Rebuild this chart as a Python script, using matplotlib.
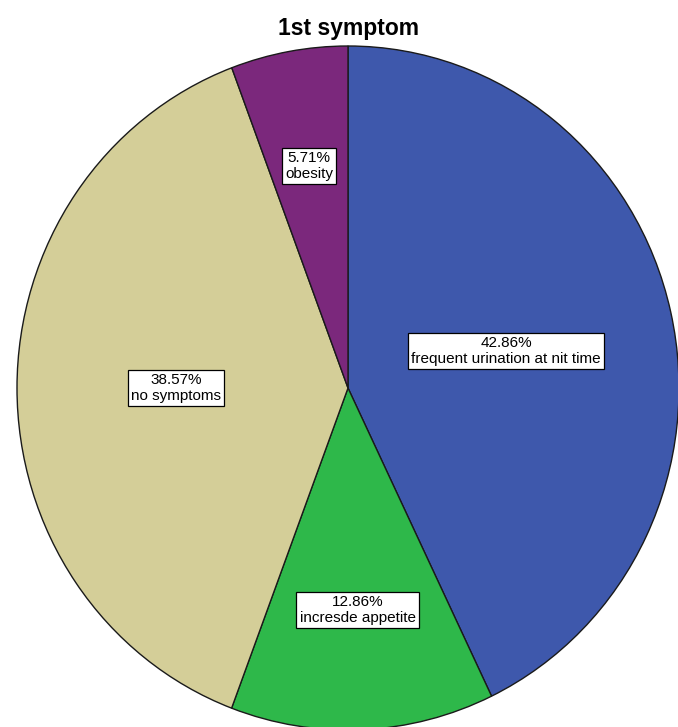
import numpy as np
import matplotlib.pyplot as plt

plt.rcParams['font.family'] = ['Liberation Sans', 'DejaVu Sans']

labels = ['frequent urination at nit time', 'incresde appetite', 'no symptoms', 'obesity']
pcts = [42.86, 12.86, 38.57, 5.71]
colors = ['#3E58AC', '#2EB84A', '#D4CE98', '#7B287C']
# how far out each label sits, as a fraction of the radius
label_r = [0.49, 0.65, 0.52, 0.66]

fig = plt.figure(figsize=(6.78, 7.27), dpi=100)
# the pie is drawn a little taller than wide
ax = fig.add_axes([17 / 678, -3 / 727, 662 / 678, 684 / 727])

wedges, _ = ax.pie(pcts, colors=colors, startangle=90, counterclock=False,
                   radius=1, wedgeprops=dict(edgecolor='#1a1a1a', linewidth=1.0))
ax.set_aspect('auto')
ax.set_xlim(-1, 1)
ax.set_ylim(-1, 1)
ax.axis('off')

for w, lab, p, r in zip(wedges, labels, pcts, label_r):
    mid = np.deg2rad((w.theta1 + w.theta2) / 2)
    ax.text(r * np.cos(mid), r * np.sin(mid), f'{p:.2f}%\n{lab}',
            ha='center', va='center', fontsize=11, linespacing=1.15,
            bbox=dict(boxstyle='square,pad=0.22', facecolor='white',
                      edgecolor='black', linewidth=0.9))

fig.text(349 / 678, 1 - 29 / 727, '1st symptom', ha='center', va='center',
         fontsize=16.5, fontweight='bold')

fig.savefig('out.png', dpi=100)
